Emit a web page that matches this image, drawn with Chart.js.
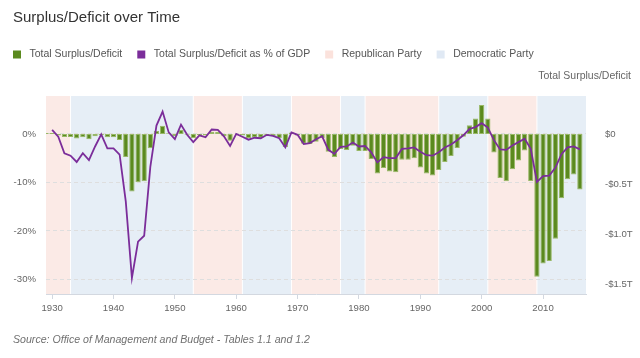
<!DOCTYPE html>
<html><head><meta charset="utf-8">
<script src="https://cdn.jsdelivr.net/npm/chart.js@4.4.0/dist/chart.umd.min.js"></script>
<style>html,body{margin:0;padding:0;background:#fff;overflow:hidden;}</style>
</head><body><canvas id="c" width="640" height="358"></canvas>
<script>
const chartTitle = 'Surplus/Deficit over Time';
const sourceText = 'Source: Office of Management and Budget - Tables 1.1 and 1.2';
const rightAxisTitle = 'Total Surplus/Deficit';
const legendLabels = ['Total Surplus/Deficit', 'Total Surplus/Deficit as % of GDP', 'Republican Party', 'Democratic Party'];

const years = [1929,
  1930,1931,1932,1933,1934,1935,1936,1937,1938,1939,
  1940,1941,1942,1943,1944,1945,1946,1947,1948,1949,
  1950,1951,1952,1953,1954,1955,1956,1957,1958,1959,
  1960,1961,1962,1963,1964,1965,1966,1967,1968,1969,
  1970,1971,1972,1973,1974,1975,1976,1977,1978,1979,
  1980,1981,1982,1983,1984,1985,1986,1987,1988,1989,
  1990,1991,1992,1993,1994,1995,1996,1997,1998,1999,
  2000,2001,2002,2003,2004,2005,2006,2007,2008,2009,
  2010,2011,2012,2013,2014,2015,2016];

// Total surplus/deficit, trillions of dollars (right axis)
const surplusT = [0.011,
  0.010,-0.016,-0.029,-0.029,-0.046,-0.033,-0.053,-0.023,-0.010,-0.033,
  -0.033,-0.060,-0.230,-0.576,-0.483,-0.473,-0.143,0.030,0.083,0.007,
  -0.023,0.043,-0.007,-0.043,-0.010,-0.016,0.023,0.020,-0.023,-0.067,
  0.003,-0.016,-0.039,-0.034,-0.037,-0.014,-0.023,-0.039,-0.129,0.014,
  -0.016,-0.097,-0.099,-0.077,-0.043,-0.177,-0.230,-0.150,-0.160,-0.117,
  -0.170,-0.170,-0.250,-0.396,-0.340,-0.376,-0.383,-0.257,-0.257,-0.243,
  -0.336,-0.396,-0.416,-0.359,-0.280,-0.220,-0.140,-0.027,0.087,0.156,
  0.290,0.156,-0.186,-0.439,-0.473,-0.353,-0.266,-0.166,-0.469,-1.427,
  -1.294,-1.271,-1.048,-0.643,-0.453,-0.406,-0.556];

// Total surplus/deficit as % of GDP (left axis)
const pctGDP = [null,
  0.8,-0.6,-4.0,-4.5,-5.8,-4.0,-5.4,-2.6,-0.1,-3.0,
  -3.0,-4.3,-13.9,-29.7,-22.2,-21.0,-6.8,1.7,4.6,0.3,
  -1.1,1.9,-0.2,-1.7,-0.3,-0.7,0.9,0.8,-0.5,-2.5,
  0.0,-0.6,-1.2,-0.8,-0.9,-0.2,-0.4,-0.9,-2.8,0.3,
  -0.2,-2.1,-1.9,-1.1,-0.5,-3.3,-4.1,-2.7,-2.6,-1.8,
  -2.6,-2.5,-3.8,-5.9,-4.8,-5.0,-5.0,-3.1,-3.0,-2.8,
  -3.7,-4.4,-4.5,-3.8,-2.8,-2.2,-1.3,-0.3,1.0,1.4,
  2.2,1.3,-1.3,-3.2,-3.3,-2.4,-1.7,-1.0,-3.1,-9.9,
  -8.7,-8.6,-7.0,-4.2,-2.8,-2.6,-3.2];

const republicanTerms = [[1929,1933],[1953,1961],[1969,1977],[1981,1993],[2001,2009]];
const democraticTerms = [[1933,1953],[1961,1969],[1977,1981],[1993,2001],[2009,2017]];

const xTicks = [1930,1940,1950,1960,1970,1980,1990,2000,2010];
const leftTicks = [0,-10,-20,-30];
const leftTickLabels = ['0%','-10%','-20%','-30%'];
const rightTicks = [0,-0.5,-1.0,-1.5];
const rightTickLabels = ['$0','-$0.5T','-$1.0T','-$1.5T'];

const COLORS = {
  bar: '#5b8a1e', barEdge: '#98b866', line: '#7b2d9a',
  rep: '#fbeae6', dem: '#e6eef6', repKey: '#fbe2dc', demKey: '#e0e9f4'
};
const FONT = "'Liberation Sans', Arial, sans-serif";

const bandsPlugin = {
  id: 'bands',
  beforeDraw(chart) {
    const {ctx, chartArea: a, scales: {x}} = chart;
    ctx.save();
    const draw = (terms, color) => {
      ctx.fillStyle = color;
      terms.forEach(([s, e]) => {
        let x1 = Math.max(a.left, x.getPixelForValue(s));
        let x2 = Math.min(a.right, x.getPixelForValue(e));
        if (s !== x.min) x1 += 0.5;
        if (e !== x.max) x2 -= 0.5;
        ctx.fillRect(x1, a.top, x2 - x1, a.bottom - a.top);
      });
    };
    draw(republicanTerms, COLORS.rep);
    draw(democraticTerms, COLORS.dem);
    ctx.restore();
  }
};

const textPlugin = {
  id: 'texts',
  afterDraw(chart) {
    const ctx = chart.ctx;
    ctx.save();
    ctx.textBaseline = 'middle';
    // title
    ctx.font = '15px ' + FONT;
    ctx.fillStyle = '#333333';
    ctx.textAlign = 'left';
    ctx.fillText(chartTitle, 13, 18);
    // legend
    const keyColors = [COLORS.bar, COLORS.line, COLORS.repKey, COLORS.demKey];
    ctx.font = '10.5px ' + FONT;
    let lx = 13;
    const ly = 54.5;
    legendLabels.forEach((lab, i) => {
      ctx.fillStyle = keyColors[i];
      ctx.fillRect(lx, ly - 4, 8, 8);
      ctx.fillStyle = '#555555';
      ctx.fillText(lab, lx + 16.5, ly);
      lx += 16.5 + ctx.measureText(lab).width + 15;
    });
    // right axis title
    ctx.textAlign = 'right';
    ctx.fillStyle = '#666666';
    ctx.fillText(rightAxisTitle, 631, 76);
    // source
    ctx.textAlign = 'left';
    ctx.font = 'italic 10.6px ' + FONT;
    ctx.fillStyle = '#707070';
    ctx.fillText(sourceText, 13, 340);
    ctx.restore();
  }
};

const tickFont = {family: FONT, size: 9.6};

new Chart(document.getElementById('c'), {
  type: 'bar',
  data: {
    datasets: [
      {
        type: 'line',
        label: legendLabels[1],
        data: years.map((yr, i) => ({x: yr, y: pctGDP[i]})).filter(p => p.y !== null),
        yAxisID: 'y',
        borderColor: COLORS.line,
        borderWidth: 1.8,
        pointRadius: 0,
        tension: 0,
        order: 0
      },
      {
        type: 'bar',
        label: legendLabels[0],
        data: years.map((yr, i) => ({x: yr, y: surplusT[i]})),
        yAxisID: 'y1',
        backgroundColor: COLORS.bar,
        borderColor: COLORS.barEdge,
        borderWidth: 1,
        borderSkipped: false,
        categoryPercentage: 1.0,
        barPercentage: 0.86,
        order: 1
      }
    ]
  },
  options: {
    responsive: false,
    animation: false,
    devicePixelRatio: 1,
    layout: {padding: {left: 0, right: 0, top: 96, bottom: 0}},
    plugins: {legend: {display: false}, title: {display: false}, tooltip: {enabled: false}},
    scales: {
      x: {
        type: 'linear', min: 1929, max: 2017, offset: false,
        afterFit: s => { s.height = 64; },
        afterBuildTicks: s => { s.ticks = xTicks.map(v => ({value: v})); },
        grid: {display: true, offset: false, drawOnChartArea: false, drawTicks: true, tickLength: 5, color: '#d3d8e0'},
        border: {display: true, color: '#d3d8e0'},
        ticks: {font: tickFont, color: '#666666', padding: 4, autoSkip: false, maxRotation: 0,
                callback: v => String(v)}
      },
      y: {
        position: 'left', min: -33.0, max: 7.8,
        afterFit: s => { s.width = 46; },
        afterBuildTicks: s => { s.ticks = leftTicks.map(v => ({value: v})); },
        grid: {display: true, drawTicks: false, color: '#dedede'},
        border: {display: false, dash: [4, 3]},
        ticks: {font: tickFont, color: '#666666', padding: 10, autoSkip: false,
                callback: v => leftTickLabels[leftTicks.indexOf(v)]}
      },
      y1: {
        position: 'right', min: -1.6, max: 0.38,
        afterFit: s => { s.width = 54; },
        afterBuildTicks: s => { s.ticks = rightTicks.map(v => ({value: v})); },
        grid: {display: false},
        border: {display: false},
        ticks: {font: tickFont, color: '#666666', padding: 11, autoSkip: false,
                callback: v => rightTickLabels[rightTicks.indexOf(v)]}
      }
    }
  },
  plugins: [bandsPlugin, textPlugin]
});
</script>
</body></html>
